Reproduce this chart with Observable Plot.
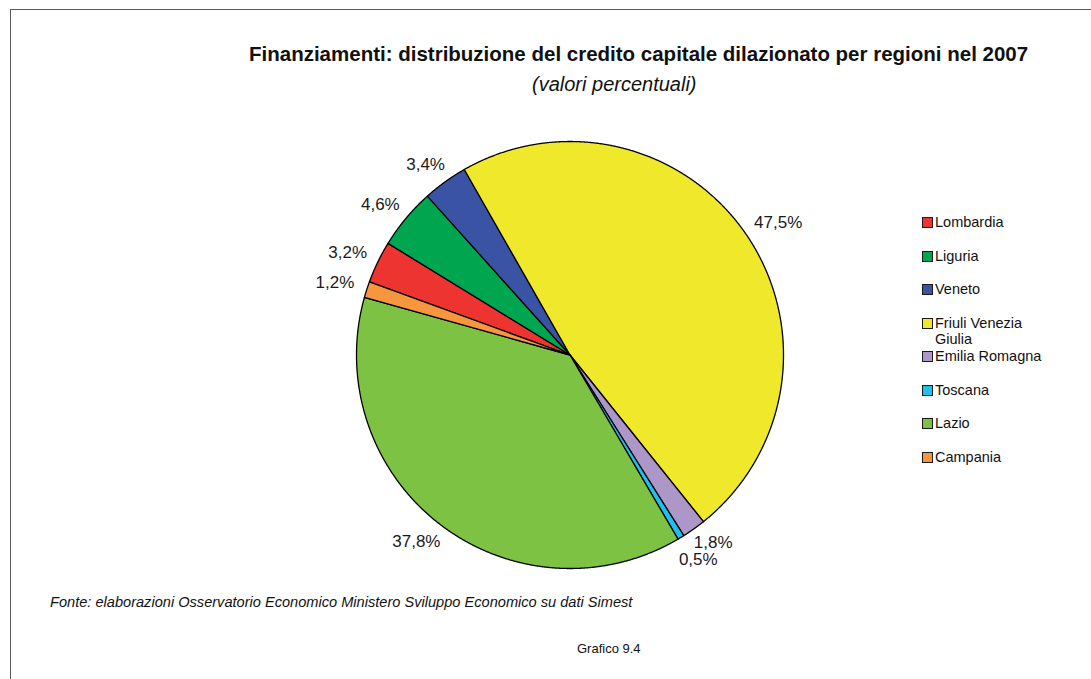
<!DOCTYPE html>
<html>
<head>
<meta charset="utf-8">
<script src="https://cdn.jsdelivr.net/npm/d3@7"></script>
<script src="https://cdn.jsdelivr.net/npm/@observablehq/plot@0.6"></script>
<style>
  html, body { margin: 0; padding: 0; background: #fff; }
  body { font-family: "Liberation Sans", Arial, Helvetica, sans-serif; color: #111; }
  #page { position: relative; width: 1091px; height: 679px; overflow: hidden; background: #fff; }
  #frame { position: absolute; left: 10px; top: 9px; width: 1200px; height: 800px;
           border-left: 1.5px solid #5a5a5a; border-top: 1.5px solid #5a5a5a; }
  #chart { position: absolute; left: 0; top: 0; }
  .txt { position: absolute; white-space: nowrap; line-height: 1; }
  #title { left: 249px; top: 44px; font-size: 20.5px; font-weight: bold; }
  #subtitle { left: 532px; top: 74px; font-size: 20px; font-style: italic; }
  #caption { left: 50px; top: 595px; font-size: 14.6px; font-style: italic; }
  #figno { left: 577px; top: 642px; font-size: 13px; }
  .lg { position: absolute; left: 922px; }
  .sw { position: absolute; left: 0; top: 0; width: 9px; height: 9px; border: 1px solid #1a1a1a; }
  .lt { position: absolute; left: 13px; top: -3px; width: 112px; font-size: 14.5px; line-height: 16px; white-space: normal; }
</style>
</head>
<body>
<div id="page">
  <div id="frame"></div>
  <div id="chart"></div>
  <div id="title" class="txt"></div>
  <div id="subtitle" class="txt"></div>
  <div id="legend"></div>
  <div id="caption" class="txt"></div>
  <div id="figno" class="txt"></div>
</div>
<script>
// ---- Data ----
const regions = ["Lombardia", "Liguria", "Veneto", "Friuli Venezia Giulia", "Emilia Romagna", "Toscana", "Lazio", "Campania"];
const shares  = [3.2, 4.6, 3.4, 47.5, 1.8, 0.5, 37.8, 1.2];
const palette = ["#ee3431", "#00a550", "#3a53a4", "#efe82b", "#ad96c8", "#1ec0ee", "#7dc243", "#f7963f"];

const titleText = "Finanziamenti: distribuzione del credito capitale dilazionato per regioni nel 2007";
const subtitleText = "(valori percentuali)";
const captionText = "Fonte: elaborazioni Osservatorio Economico Ministero Sviluppo Economico su dati Simest";
const figText = "Grafico 9.4";

// ---- Layout ----
const W = 1091, H = 679;
const cx = 569.5, cy = 354.5, R = 213.5;
const startDeg = -70;
const labelSize = 17;

document.getElementById("title").textContent = titleText;
document.getElementById("subtitle").textContent = subtitleText;
document.getElementById("caption").textContent = captionText;
document.getElementById("figno").textContent = figText;

const data = regions.map((r, i) => ({region: r, value: shares[i]}));
const a0 = startDeg * Math.PI / 180;
const arcs = d3.pie().sort(null).value(d => d.value).startAngle(a0).endAngle(a0 + 2 * Math.PI)(data);

const px = (a, r) => cx + r * Math.sin(a);
const py = (a, r) => cy - r * Math.cos(a);

// slice polygons
const poly = [];
for (const arc of arcs) {
  const reg = arc.data.region;
  const n = Math.max(2, Math.ceil((arc.endAngle - arc.startAngle) / (0.2 * Math.PI / 180)));
  poly.push({region: reg, x: cx, y: cy});
  for (let k = 0; k <= n; k++) {
    const a = arc.startAngle + (arc.endAngle - arc.startAngle) * k / n;
    poly.push({region: reg, x: px(a, R), y: py(a, R)});
  }
  poly.push({region: reg, x: cx, y: cy});
}

// labels placed outside the slice end, box touching the anchor point
const fmt = v => v.toFixed(1).replace(".", ",") + "%";
const pad = 14, boxH = 15, minSep = 17;
const labs = arcs.map(a => {
  const t = fmt(a.data.value);
  const nd = t.replace(/[^0-9]/g, "").length;
  const w = (nd * 0.556 + 0.278 + 0.889) * labelSize;
  const ang = (a.startAngle + a.endAngle) / 2;
  const s = Math.sin(ang), c = Math.cos(ang);
  return {text: t, w,
          x: px(ang, R + pad) + s * w / 2,
          y: py(ang, R + pad) - c * boxH / 2};
});
// vertical collision resolution
for (let it = 0; it < 200; it++) {
  let moved = false;
  for (let i = 0; i < labs.length; i++) {
    for (let j = i + 1; j < labs.length; j++) {
      const A = labs[i], B = labs[j];
      const dx = A.x - B.x, dy = A.y - B.y;
      if (Math.abs(dx) < (A.w + B.w) / 2 && Math.abs(dy) < minSep) {
        const d = (minSep - Math.abs(dy)) / 2 + 0.05;
        if (dy <= 0) { A.y -= d; B.y += d; } else { A.y += d; B.y -= d; }
        moved = true;
      }
    }
  }
  if (!moved) break;
}

const plot = Plot.plot({
  width: W,
  height: H,
  margin: 0,
  style: {fontFamily: '"Liberation Sans", Arial, sans-serif', background: "transparent"},
  x: {domain: [0, W], range: [0, W], axis: null},
  y: {domain: [0, H], range: [0, H], axis: null},
  color: {domain: regions, range: palette},
  marks: [
    Plot.line(poly, {x: "x", y: "y", z: "region", fill: "region", stroke: "#000", strokeWidth: 1.3, strokeLinejoin: "round"}),
    Plot.text(labs, {x: "x", y: "y", text: "text", fontSize: labelSize, fill: "#1a1a1a"})
  ]
});
document.getElementById("chart").appendChild(plot);

// legend
const lg = document.getElementById("legend");
regions.forEach((r, i) => {
  const item = document.createElement("div");
  item.className = "lg";
  item.style.top = (217 + i * 33.5) + "px";
  const sw = document.createElement("div");
  sw.className = "sw";
  sw.style.background = palette[i];
  const lt = document.createElement("div");
  lt.className = "lt";
  lt.textContent = r;
  item.appendChild(sw);
  item.appendChild(lt);
  lg.appendChild(item);
});
</script>
</body>
</html>
